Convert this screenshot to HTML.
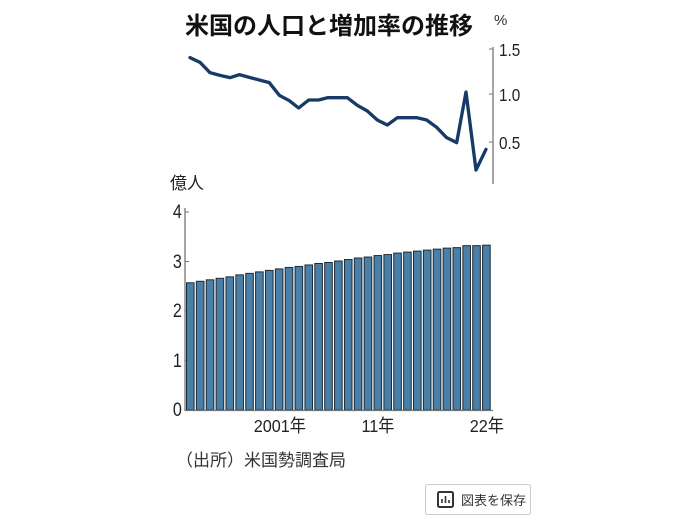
<!DOCTYPE html>
<html><head><meta charset="utf-8"><style>
html,body{margin:0;padding:0;background:#fff;}
svg{display:block;}
text{font-family:"Liberation Sans","Noto Sans CJK JP",sans-serif;}
</style></head><body>
<svg width="682" height="532" viewBox="0 0 682 532" xmlns="http://www.w3.org/2000/svg">
<text x="329" y="34" font-size="24" font-weight="bold" text-anchor="middle" fill="#111" font-family="Noto Sans CJK JP, sans-serif">米国の人口と増加率の推移</text>
<text x="494" y="25" font-size="15" fill="#333">%</text>
<line x1="493" y1="47" x2="493" y2="184" stroke="#777" stroke-width="1.3"/>
<line x1="489" y1="49" x2="493" y2="49" stroke="#777"/>
<line x1="489" y1="94" x2="493" y2="94" stroke="#777"/>
<line x1="489" y1="142" x2="493" y2="142" stroke="#777"/>
<g font-size="18" fill="#222" transform="scale(0.85,1)">
<text x="587" y="56">1.5</text>
<text x="587" y="101">1.0</text>
<text x="587" y="149">0.5</text>
</g>
<g transform="translate(160,30) scale(0.33333)">
<polyline fill="none" stroke="#173a66" stroke-width="10" stroke-linejoin="round" stroke-linecap="round" points="90,83 120,97 150,128 180,136 210,143 238,134 268,142 298,150 328,158 358,196 388,212 416,234 446,210 476,210 504,203 534,203 562,203 592,226 622,243 652,270 682,285 712,263 742,263 770,263 800,270 830,292 860,323 890,338 918,186 948,420 978,358"/>
</g>
<text x="170" y="189" font-size="17" fill="#222">億人</text>
<line x1="185" y1="208" x2="185" y2="411" stroke="#777" stroke-width="1.3"/>
<g stroke="#777"><line x1="185" y1="212" x2="189" y2="212"/><line x1="185" y1="261.5" x2="189" y2="261.5"/><line x1="185" y1="311" x2="189" y2="311"/><line x1="185" y1="360.5" x2="189" y2="360.5"/></g>
<g font-size="19" fill="#222" text-anchor="end" transform="scale(0.85,1)">
<text x="214" y="218">4</text><text x="214" y="268">3</text><text x="214" y="317">2</text><text x="214" y="367">1</text><text x="214" y="416">0</text>
</g>
<g id="bars" fill="#4a80a8" stroke="#1d2a36" stroke-width="1"></g>
<line x1="185" y1="410.5" x2="493" y2="410.5" stroke="#777" stroke-width="1.3"/>
<g font-size="18" fill="#222" text-anchor="middle" transform="scale(0.9,1)">
<text x="311" y="432">2001年</text><text x="420" y="432">11年</text><text x="541" y="432">22年</text>
</g>
<text x="176" y="466" font-size="17" fill="#333">（出所）米国勢調査局</text>
<rect x="425.5" y="484.5" width="105" height="30" fill="#fff" stroke="#ccc" rx="2"/>
<rect x="438" y="492" width="15" height="15" fill="none" stroke="#333" stroke-width="2" rx="1.5"/>
<g stroke="#333" stroke-width="1.6"><line x1="442" y1="503" x2="442" y2="499"/><line x1="445.5" y1="503" x2="445.5" y2="496"/><line x1="449" y1="503" x2="449" y2="500"/></g>
<text x="461" y="505" font-size="13" fill="#333">図表を保存</text>
</svg>
<script>
var v=[2.57,2.60,2.63,2.66,2.69,2.73,2.76,2.79,2.82,2.85,2.88,2.90,2.93,2.96,2.98,3.01,3.04,3.07,3.09,3.12,3.14,3.17,3.19,3.21,3.23,3.25,3.27,3.28,3.32,3.32,3.33];
var g=document.getElementById('bars'),s='';
for(var i=0;i<v.length;i++){var x=186.5+i*9.87,y=410-v[i]*49.5;s+='<rect x="'+x.toFixed(2)+'" y="'+y.toFixed(2)+'" width="7.6" height="'+(410-y).toFixed(2)+'"/>';}
g.innerHTML=s;
</script>
</body></html>
